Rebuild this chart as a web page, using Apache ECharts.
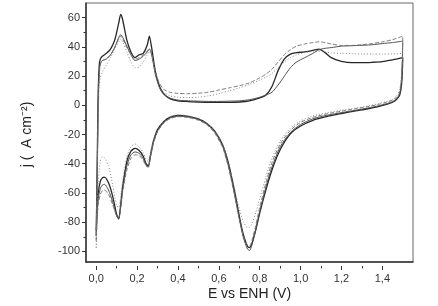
<!DOCTYPE html>
<html>
<head>
<meta charset="utf-8">
<script src="https://cdn.jsdelivr.net/npm/echarts@6/dist/echarts.min.js"></script>
<style>
  html, body { margin: 0; padding: 0; background: #fff; }
  #main { width: 438px; height: 306px; }
</style>
</head>
<body>
<div id="main"></div>
<script>
// potential grid (V vs ENH), anodic sweep 0 -> 1.5
var eUp = [0, 0.005, 0.01, 0.015, 0.02, 0.03, 0.05, 0.07, 0.09, 0.11, 0.12, 0.13, 0.15, 0.17, 0.19, 0.21, 0.23, 0.25, 0.26, 0.27,
  0.29, 0.31, 0.33, 0.36, 0.4, 0.45, 0.5, 0.55, 0.6, 0.65, 0.7, 0.75, 0.8, 0.83, 0.86, 0.89, 0.92, 0.95, 0.98, 1.02,
  1.06, 1.09, 1.12, 1.15, 1.2, 1.25, 1.3, 1.35, 1.4, 1.45, 1.5];
// cathodic sweep 1.5 -> 0
var eDown = [1.495, 1.485, 1.47, 1.45, 1.42, 1.38, 1.33, 1.27, 1.2, 1.13, 1.06, 1.0, 0.95, 0.9, 0.86, 0.83, 0.8, 0.78, 0.76, 0.75,
  0.74, 0.72, 0.7, 0.68, 0.65, 0.62, 0.58, 0.54, 0.5, 0.45, 0.4, 0.36, 0.33, 0.3, 0.28, 0.265, 0.255, 0.245, 0.23, 0.21,
  0.19, 0.17, 0.15, 0.13, 0.12, 0.11, 0.1, 0.08, 0.06, 0.04, 0.03, 0.02, 0.01, 0.004, 0];

// current density, one array per cycle
var jUpA = [-92, -40, 10, 27, 31, 33, 35, 38, 44, 56, 62, 58, 44, 36, 32, 34, 35, 41, 47, 40,
  22, 12, 7, 3.5, 2, 1.5, 1.2, 1, 1, 1, 1.2, 2, 4, 6, 12, 23, 31, 34.5, 35.5, 36,
  37, 38, 35.5, 32, 29.5, 28.5, 28.5, 28.8, 29.3, 30.5, 32];
var jUpB = [-88, -45, 5, 22, 28, 30, 31, 34, 39, 46, 48, 46, 40, 34, 30, 31, 33, 36, 38, 35,
  20, 11, 6.5, 4, 2.5, 2, 1.8, 1.6, 1.6, 1.8, 2, 2.8, 4.5, 6, 8, 13, 19, 25, 29, 32,
  35, 37.5, 38.5, 39, 40, 40.3, 40.6, 41, 41.8, 42.5, 43.5];
var jUpC = [-95, -50, 2, 20, 27, 30, 31.5, 34, 39, 45, 47, 45, 39, 34, 31, 32, 34, 37, 38, 36,
  22, 14, 10, 8, 7.2, 7, 7.3, 8, 9.5, 11, 12.5, 14.5, 18, 20.5, 24, 29, 34, 37.5, 40, 41.5,
  42.5, 43, 42.5, 41.5, 40.5, 40.5, 41, 41.8, 43, 44.5, 47];
var jUpD = [-100, -60, -10, 12, 18, 22, 27, 32, 38, 43, 45, 43, 36, 29, 25, 25.5, 29, 34, 36, 34,
  20, 12, 8, 5.5, 4.5, 4.3, 4.5, 5.5, 7, 9, 11, 13.5, 16.5, 18.5, 21, 25, 29, 32, 34, 35.5,
  36.5, 36.5, 36, 35.3, 35, 34.8, 34.5, 34.5, 34.5, 34.6, 35];

var jDownA = [15, 6, 3, 1, -0.5, -2, -3.5, -5, -6.8, -8.8, -11.5, -15.5, -21, -32, -46, -60, -76, -88, -98, -100,
  -99, -91, -78, -63, -43, -29, -19, -13.5, -10.5, -8.8, -8.2, -9.5, -12.5, -18, -26, -36, -43, -42, -36.5, -32.5,
  -31, -33, -40, -57, -70, -80, -77, -64, -55, -51, -51.5, -54, -62, -75, -92];
var jDownB = [18, 7, 3.5, 1.5, 0, -1.5, -3, -4.5, -6.2, -8, -10.5, -14.5, -20, -30, -44, -58, -75, -88, -99, -102,
  -101, -93, -80, -65, -45, -30, -19.5, -14, -11, -9.2, -8.6, -10, -13, -19, -27, -37, -44, -43, -38, -34.5,
  -33.5, -35.5, -43, -59, -71, -80, -78, -68, -60, -56, -56.5, -59, -66, -78, -88];
var jDownC = [20, 8, 4.5, 2.5, 1, -0.5, -2, -3.5, -5.2, -7, -9.5, -13, -18.5, -28, -41, -55, -72, -85, -96, -99,
  -98.5, -92, -80, -66, -46, -31, -20.5, -14.5, -11.5, -9.6, -9, -10.5, -13.5, -19.5, -27.5, -37.5, -44, -43.5, -39.5, -36,
  -35.5, -38, -46, -61, -72, -79, -78, -70, -63, -60, -60.5, -63, -70, -80, -95];
var jDownD = [22, 10, 5.5, 3, 1.5, 0, -1.5, -3, -4.5, -6.3, -8.5, -12, -17, -26, -38, -51, -66, -76, -84, -86,
  -86, -82, -73, -61, -43, -29, -19, -13.5, -10.5, -8.5, -7.8, -9, -12, -18, -25, -34, -40, -39, -34, -30,
  -28, -30, -37, -53, -64, -72, -71, -56, -43, -37.5, -37, -40, -55, -80, -100];

var xTicks = [0, 1.4];
var yTicks = [-100, 60];

function loop(up, down) {
  var pts = [];
  eUp.forEach(function (e, i) { pts.push([e, up[i]]); });
  eDown.forEach(function (e, i) { pts.push([e, down[i]]); });
  return pts;
}

function comma(v) {
  return v.toFixed(1).replace('.', ',');
}

var cycles = [
  { up: jUpA, down: jDownA, color: '#262626', width: 1.3, type: 'solid' },
  { up: jUpB, down: jDownB, color: '#505050', width: 1, type: 'solid' },
  { up: jUpC, down: jDownC, color: '#6e6e6e', width: 0.9, type: [4, 2] },
  { up: jUpD, down: jDownD, color: '#7a7a7a', width: 0.9, type: [1, 2] }
];

var labelFont = { color: '#333', fontSize: 11, fontFamily: 'Liberation Sans, Arial, sans-serif' };

var option = {
  animation: false,
  backgroundColor: '#fff',
  grid: [
    // data + frame
    { left: 86, right: 25, top: 3, bottom: 40, show: true, borderColor: '#666', borderWidth: 1 },
    // x ticks/labels
    { left: 96.2, right: 55.6, top: 3, bottom: 40 },
    // y ticks/labels
    { left: 86, right: 25, top: 17.6, bottom: 54.6 }
  ],
  xAxis: [
    {
      type: 'value', gridIndex: 0, min: -0.05, max: 1.55,
      axisLine: { show: true, onZero: false, lineStyle: { color: '#333', width: 1.5 } },
      axisTick: { show: false }, axisLabel: { show: false }, splitLine: { show: false },
      name: 'E vs ENH (V)', nameLocation: 'middle', nameGap: 25,
      nameTextStyle: { color: '#222', fontSize: 14, fontFamily: 'Liberation Sans, Arial, sans-serif' }
    },
    {
      type: 'value', gridIndex: 1, min: xTicks[0], max: xTicks[1], interval: 0.2,
      axisLine: { show: false, onZero: false },
      axisTick: { show: true, length: 4, lineStyle: { color: '#333' } },
      minorTick: { show: true, splitNumber: 2, length: 2.5, lineStyle: { color: '#333' } },
      axisLabel: Object.assign({ margin: 7, formatter: comma }, labelFont),
      splitLine: { show: false }
    },
    { type: 'value', gridIndex: 2, show: false, min: 0, max: 1 }
  ],
  yAxis: [
    {
      type: 'value', gridIndex: 0, min: -110, max: 70,
      axisLine: { show: true, onZero: false, lineStyle: { color: '#333', width: 1.5 } },
      axisTick: { show: false }, axisLabel: { show: false }, splitLine: { show: false }
    },
    { type: 'value', gridIndex: 1, show: false, min: 0, max: 1 },
    {
      type: 'value', gridIndex: 2, min: yTicks[0], max: yTicks[1], interval: 20,
      axisLine: { show: false, onZero: false },
      axisTick: { show: true, length: 4, lineStyle: { color: '#333' } },
      minorTick: { show: true, splitNumber: 2, length: 2.5, lineStyle: { color: '#333' } },
      axisLabel: Object.assign({ margin: 6 }, labelFont),
      splitLine: { show: false },
      name: 'j (  A cm\u207B\u00B2)', nameLocation: 'middle', nameGap: 52, nameRotate: 90,
      nameTextStyle: { color: '#222', fontSize: 14, fontFamily: 'Liberation Sans, Arial, sans-serif' }
    }
  ],
  series: cycles.map(function (c) {
    return {
      type: 'line',
      xAxisIndex: 0,
      yAxisIndex: 0,
      data: loop(c.up, c.down),
      showSymbol: false,
      smooth: 0.25,
      lineStyle: { color: c.color, width: c.width, type: c.type }
    };
  })
};

var myChart = echarts.init(document.getElementById('main'));
myChart.setOption(option);
window.addEventListener('resize', function () {
  myChart.resize();
});
</script>
</body>
</html>
